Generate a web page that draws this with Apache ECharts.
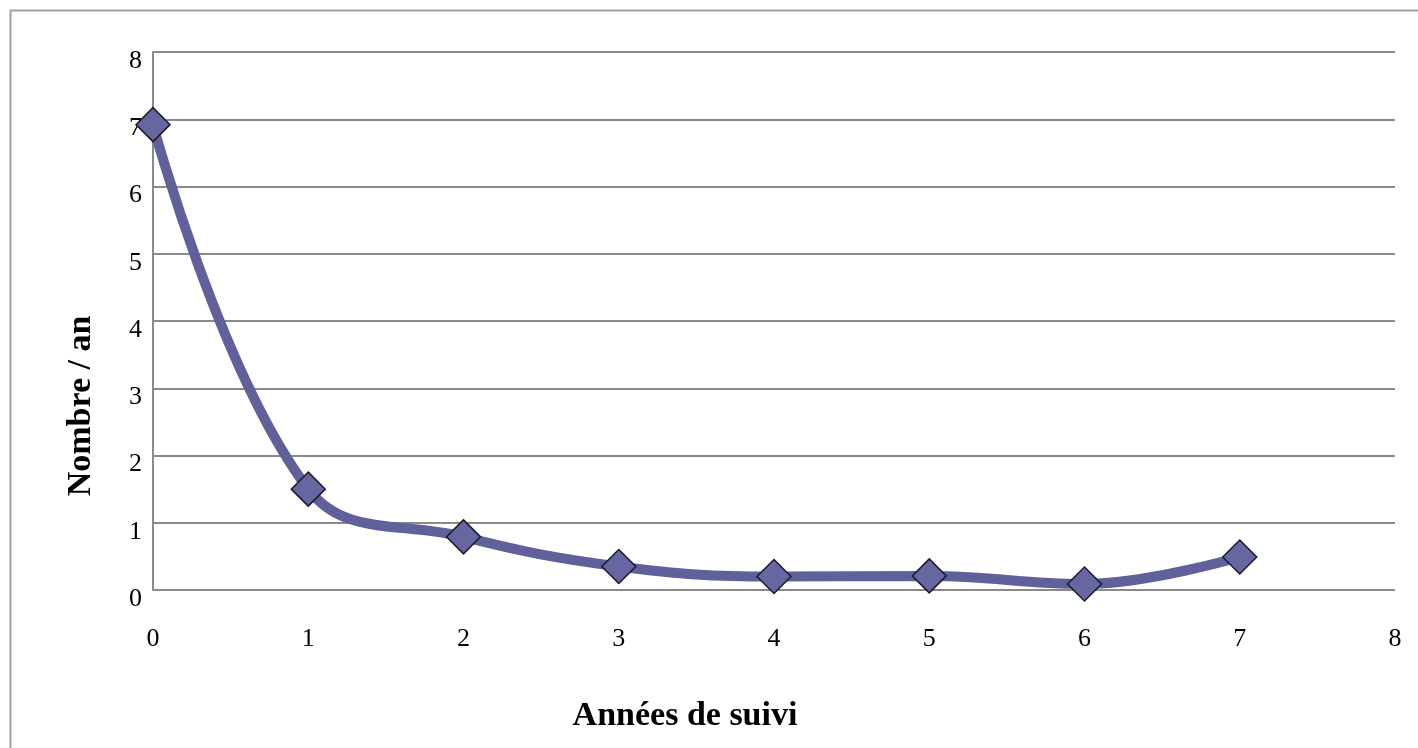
<!DOCTYPE html>
<html><head><meta charset="utf-8">
<script src="https://cdn.jsdelivr.net/npm/echarts@6/dist/echarts.min.js"></script>
<style>html,body{margin:0;padding:0;background:#fff}#c{width:1418px;height:748px}</style>
</head><body><div id="c"></div>
<script>
const years = [0, 1, 2, 3, 4, 5, 6, 7];
const values = [6.92, 1.5, 0.79, 0.35, 0.2, 0.21, 0.09, 0.49];
const xTitle = 'Années de suivi';
const yTitle = 'Nombre / an';

const chart = echarts.init(document.getElementById('c'));
const font = '"Liberation Serif", "Times New Roman", serif';
chart.setOption({
  animation: false,
  backgroundColor: '#fff',
  graphic: [{
    type: 'rect', shape: {x: 10.5, y: 10.5, width: 1420, height: 760},
    style: {fill: 'none', stroke: '#a0a0a0', lineWidth: 2}, silent: true
  }, {
    type: 'text', x: 685, y: 716,
    style: {text: xTitle, font: 'bold 34px ' + font, fill: '#000', textAlign: 'center', textVerticalAlign: 'middle'},
    silent: true
  }, {
    type: 'text', x: 81, y: 406, rotation: Math.PI / 2,
    style: {text: yTitle, font: 'bold 34px ' + font, fill: '#000', textAlign: 'center', textVerticalAlign: 'middle'},
    silent: true
  }],
  grid: {left: 153, top: 52, right: 23, bottom: 158, containLabel: false},
  xAxis: {
    type: 'value', min: 0, max: 8, interval: 1,
    axisLine: {show: false}, axisTick: {show: false},
    splitLine: {show: false},
    axisLabel: {fontFamily: font, fontSize: 26, color: '#000', margin: 36}
  },
  yAxis: {
    type: 'value', min: 0, max: 8, interval: 1,
    axisLine: {show: true, lineStyle: {color: '#8a8a8a', width: 2}},
    axisTick: {show: false},
    splitLine: {show: true, lineStyle: {color: '#8a8a8a', width: 2}},
    axisLabel: {fontFamily: font, fontSize: 26, color: '#000', margin: 11, verticalAlign: 'top', lineHeight: 18}
  },
  series: [{
    type: 'line',
    data: years.map((x, i) => [x, values[i]]),
    smooth: 0.4,
    lineStyle: {color: '#60609A', width: 10},
    symbol: 'diamond', symbolSize: 34,
    itemStyle: {color: '#6666A0', borderColor: '#1a1a2e', borderWidth: 1.5},
    z: 3
  }]
});
</script></body></html>
